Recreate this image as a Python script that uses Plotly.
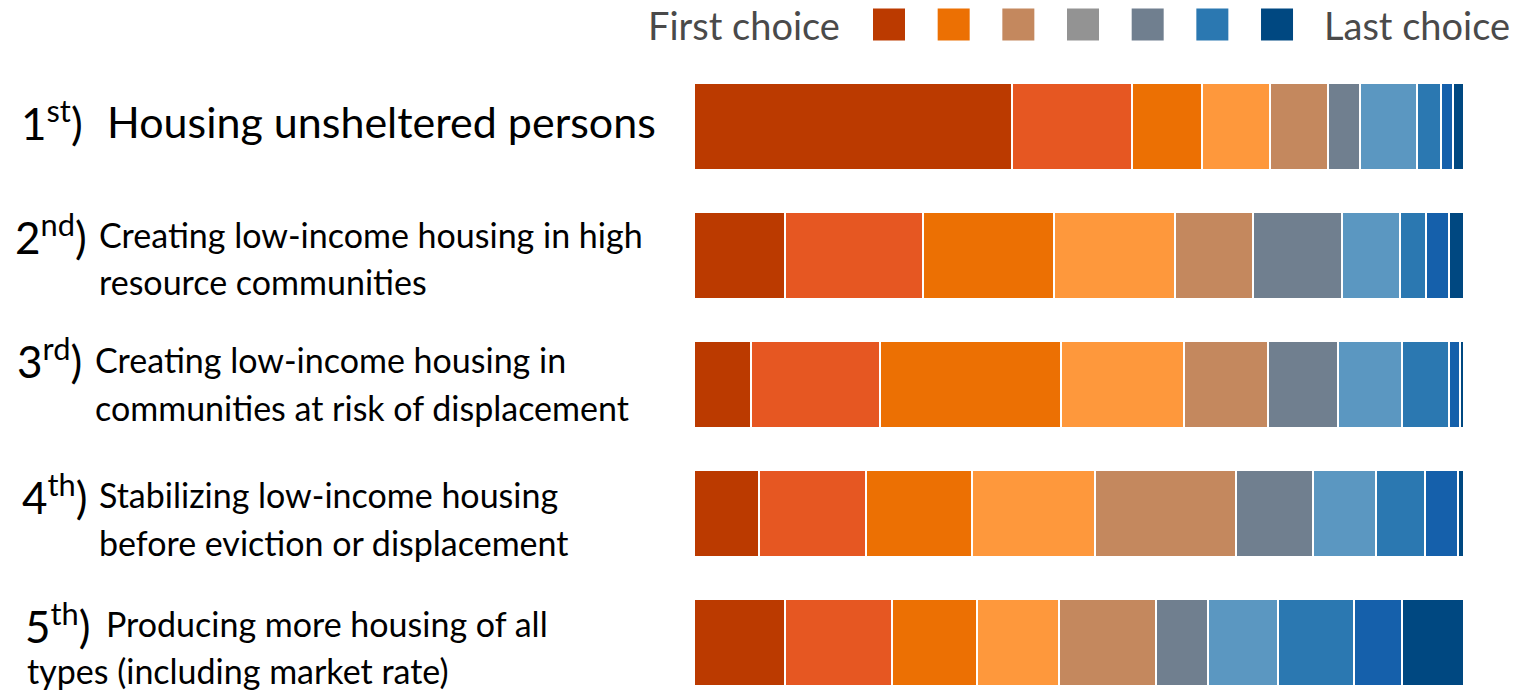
import plotly.graph_objects as go

# ---------------- data ----------------
categories = [
    "Housing unsheltered persons",
    "Creating low-income housing in high resource communities",
    "Creating low-income housing in communities at risk of displacement",
    "Stabilizing low-income housing before eviction or displacement",
    "Producing more housing of all types (including market rate)",
]
ordinal_num = ["1", "2", "3", "4", "5"]
ordinal_sup = ["st", "nd", "rd", "th", "th"]
label_lines = [
    ["Housing unsheltered persons"],
    ["Creating low-income housing in high", "resource communities"],
    ["Creating low-income housing in", "communities at risk of displacement"],
    ["Stabilizing low-income housing", "before eviction or displacement"],
    ["Producing more housing of all", "types (including market rate)"],
]

# share (%) of respondents placing each priority at rank 1 (first) ... rank 10 (last)
rank_1 = [41.3, 11.8, 7.4, 8.4, 11.8]
rank_2 = [15.6, 18.0, 16.7, 13.9, 13.9]
rank_3 = [9.1, 16.9, 23.5, 13.8, 11.1]
rank_4 = [8.8, 15.8, 16.0, 16.0, 10.6]
rank_5 = [7.6, 10.1, 11.0, 18.3, 12.6]
rank_6 = [4.1, 11.6, 9.1, 10.0, 6.7]
rank_7 = [7.4, 7.5, 8.2, 8.2, 9.2]
rank_8 = [3.1, 3.4, 6.2, 6.3, 9.8]
rank_9 = [1.6, 2.9, 1.4, 4.3, 6.3]
rank_10 = [1.4, 2.0, 0.5, 0.8, 8.0]
ranks = [rank_1, rank_2, rank_3, rank_4, rank_5, rank_6, rank_7, rank_8, rank_9, rank_10]

rank_colors = ["#bb3a00", "#e65722", "#ec7003", "#fe983c", "#c4885e",
               "#707f8f", "#5b97c1", "#2b78b1", "#1560ab", "#004881"]
legend_colors = ["#bb3a00", "#ec7003", "#c4885e", "#939393", "#707f8f", "#2b78b1", "#004881"]
legend_first = "First choice"
legend_last = "Last choice"

# ---------------- layout constants ----------------
W, H = 1529, 691
FONT = "Lato"
BIG = 44
SMALL = 34

fig = go.Figure()

for i, vals in enumerate(ranks):
    fig.add_trace(go.Bar(
        x=vals, y=categories, orientation="h",
        marker=dict(color=rank_colors[i], line=dict(color="white", width=2)),
        width=0.674, name=f"Rank {i+1}", hoverinfo="x+name",
    ))

# legend keys on their own (hidden) axes
fig.add_trace(go.Scatter(
    x=list(range(len(legend_colors))), y=[0.5] * len(legend_colors),
    mode="markers", xaxis="x2", yaxis="y2",
    marker=dict(symbol="square", size=32, color=legend_colors, line=dict(width=0)),
    hoverinfo="skip",
))

annotations = []
row_cfg = [
    # (numeral x px, numeral dy, [(text x px, dy, size)...])
    (19, 6, [(105, 5, 43)]),
    (13, 21, [(97, 21, SMALL), (97, -26, SMALL)]),
    (15, 26, [(93, 25, SMALL), (93, -23, SMALL)]),
    (20, 19, [(97, 19, SMALL), (97, -29, SMALL)]),
    (23, 19, [(104, 19, SMALL), (25, -28, SMALL)]),
]
for r, cat in enumerate(categories):
    nx, ndy, lines = row_cfg[r]
    annotations.append(dict(
        text=f"{ordinal_num[r]}<sup>{ordinal_sup[r]}</sup>)",
        x=nx / W, xref="paper", xanchor="left",
        y=cat, yref="y", yanchor="middle", yshift=ndy,
        showarrow=False, font=dict(family=FONT, size=BIG, color="#000"),
    ))
    for line, (lx, dy, sz) in zip(label_lines[r], lines):
        annotations.append(dict(
            text=line, x=lx / W, xref="paper", xanchor="left",
            y=cat, yref="y", yanchor="middle", yshift=dy,
            showarrow=False, font=dict(family=FONT, size=sz, color="#000"),
        ))

# legend captions
annotations.append(dict(text=legend_first, x=-0.73, xref="x2", xanchor="right",
                        y=0.5, yref="y2", yanchor="middle", showarrow=False,
                        font=dict(family=FONT, size=38, color="#4a4a4a")))
annotations.append(dict(text=legend_last, x=6.7, xref="x2", xanchor="left",
                        y=0.5, yref="y2", yanchor="middle", showarrow=False,
                        font=dict(family=FONT, size=38, color="#4a4a4a")))

px_per_unit = 64.67
x2_lo = -889 / px_per_unit
x2_hi = x2_lo + W / px_per_unit

fig.update_layout(
    width=W, height=H,
    margin=dict(l=0, r=0, t=0, b=0),
    paper_bgcolor="white", plot_bgcolor="white",
    barmode="stack", showlegend=False,
    xaxis=dict(domain=[694 / W, 1464 / W], range=[0, 100], visible=False, fixedrange=True),
    yaxis=dict(range=[4.376, -0.981], visible=False, fixedrange=True),
    xaxis2=dict(domain=[0, 1], range=[x2_lo, x2_hi], visible=False, anchor="y2", fixedrange=True),
    yaxis2=dict(domain=[1 - 41 / H, 1 - 8 / H], range=[0, 1], visible=False, anchor="x2", fixedrange=True),
    annotations=annotations,
)

fig.write_html("out.html", config={"displayModeBar": False},
               post_script="document.body.style.margin='0';document.body.style.overflow='hidden';")
